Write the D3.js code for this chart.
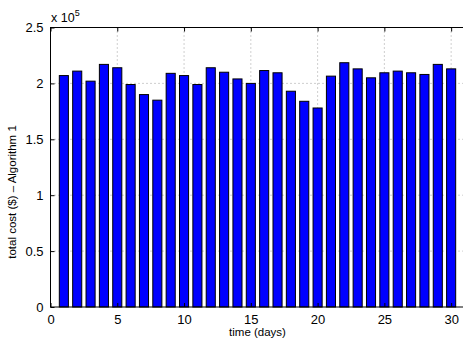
<!DOCTYPE html>
<html>
<head>
<meta charset="utf-8">
<script src="https://cdn.jsdelivr.net/npm/d3@7"></script>
<style>
  body { margin: 0; background: #fff; }
  svg { display: block; font-family: "Liberation Sans", Arial, sans-serif; }
</style>
</head>
<body>
<div id="chart"></div>
<script>
const days = d3.range(1, 31);
const costs = [2.07, 2.11, 2.02, 2.17, 2.14, 1.99, 1.90, 1.85, 2.09, 2.07,
               1.99, 2.14, 2.10, 2.04, 2.00, 2.115, 2.095, 1.93, 1.84, 1.78,
               2.065, 2.185, 2.13, 2.05, 2.095, 2.11, 2.095, 2.08, 2.17, 2.13];
const xTicks = [0, 5, 10, 15, 20, 25, 30];
const yTicks = [0, 0.5, 1, 1.5, 2, 2.5];

const width = 463, height = 343;
const margin = {top: 27.5, right: -1.5, bottom: 36, left: 50.5};
const plotW = width - margin.left - margin.right;
const plotH = height - margin.top - margin.bottom;

const svg = d3.select('#chart').append('svg')
    .attr('width', width)
    .attr('height', height);

const g = svg.append('g')
    .attr('transform', `translate(${margin.left},${margin.top})`);

const x = d3.scaleLinear().domain([0, 31]).range([0, plotW]);
const y = d3.scaleLinear().domain([0, 2.5]).range([plotH, 0]);

// dotted grid
g.append('g').selectAll('line.gx')
    .data(xTicks.slice(1))
    .join('line')
    .attr('x1', d => x(d)).attr('x2', d => x(d))
    .attr('y1', 0).attr('y2', plotH)
    .attr('stroke', '#888').attr('stroke-width', 0.8)
    .attr('stroke-dasharray', '1,3');
g.append('g').selectAll('line.gy')
    .data(yTicks.slice(1, -1))
    .join('line')
    .attr('x1', 0).attr('x2', plotW)
    .attr('y1', d => y(d)).attr('y2', d => y(d))
    .attr('stroke', '#888').attr('stroke-width', 0.8)
    .attr('stroke-dasharray', '1,3');

// bars
const bw = 0.68;
g.append('g').selectAll('rect')
    .data(days)
    .join('rect')
    .attr('x', (d, i) => x(d - bw / 2))
    .attr('y', (d, i) => y(costs[i]))
    .attr('width', x(bw) - x(0))
    .attr('height', (d, i) => y(0) - y(costs[i]))
    .attr('fill', '#0000ff')
    .attr('stroke', '#000')
    .attr('stroke-width', 1);

// axes box
g.append('rect')
    .attr('x', 0).attr('y', 0)
    .attr('width', plotW).attr('height', plotH)
    .attr('fill', 'none').attr('stroke', '#000').attr('stroke-width', 1);

const xAxis = g.append('g')
    .attr('transform', `translate(0,${plotH})`)
    .call(d3.axisBottom(x).tickValues(xTicks).tickSizeInner(-4).tickSizeOuter(0).tickPadding(7));
const yAxis = g.append('g')
    .call(d3.axisLeft(y).tickValues(yTicks).tickSizeInner(-4).tickSizeOuter(0).tickPadding(7)
        .tickFormat(d3.format('')));
const xTop = g.append('g')
    .call(d3.axisTop(x).tickValues(xTicks).tickSizeInner(-4).tickSizeOuter(0).tickFormat(''));

[xAxis, yAxis, xTop].forEach(a => {
    a.select('.domain').remove();
    a.selectAll('.tick line').attr('stroke', '#000');
    a.selectAll('text').attr('font-size', 13).attr('fill', '#000')
        .attr('font-family', '"Liberation Sans", Arial, sans-serif');
});
xAxis.selectAll('text').attr('dy', '0.75em');

// exponent label
const expo = svg.append('text')
    .attr('x', 51).attr('y', 22)
    .attr('font-size', 12.5)
    .text('x 10');
expo.append('tspan')
    .attr('dy', -6).attr('font-size', 9)
    .text('5');

// axis labels
svg.append('text')
    .attr('x', margin.left + x(15.5)).attr('y', 336)
    .attr('text-anchor', 'middle')
    .attr('font-size', 11.5)
    .text('time (days)');

svg.append('text')
    .attr('transform', 'translate(16,192) rotate(-90)')
    .attr('text-anchor', 'middle')
    .attr('font-size', 11.5)
    .text('total cost ($) \u2013 Algorithm 1');
</script>
</body>
</html>
